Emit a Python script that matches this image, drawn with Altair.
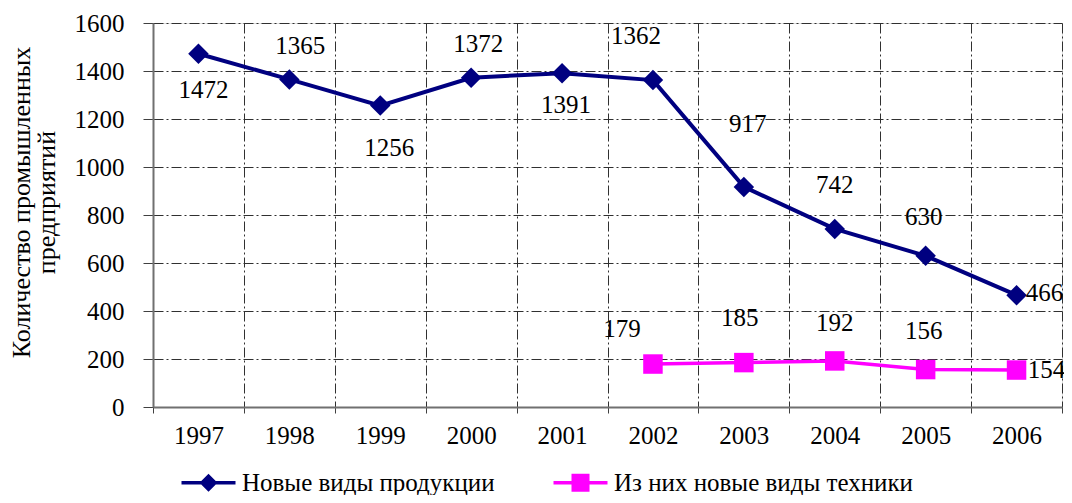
import altair as alt
import pandas as pd

# ---------------- data ----------------
years = ['1997', '1998', '1999', '2000', '2001', '2002', '2003', '2004', '2005', '2006']
products = [1472, 1365, 1256, 1372, 1391, 1362, 917, 742, 630, 466]
tech_years = ['2002', '2003', '2004', '2005', '2006']
tech = [179, 185, 192, 156, 154]
series_names = ['Новые виды продукции', 'Из них новые виды техники']
y_ticks = [0, 200, 400, 600, 800, 1000, 1200, 1400, 1600]

# label placement (pixel offsets from the point)
prod_label_dx = [5, 11, 9, 7, 4, -17, 4, 0, -2, 28]
prod_label_dy = [36, -33, 42, -34, 32, -44, -63, -44, -39, -2]
tech_label_dx = [-31, -4, 0, -2, 30]
tech_label_dy = [-35, -45, -38, -39, 0]

NAVY = '#000080'
MAGENTA = '#FF00FF'
FONT = 'Liberation Serif'
FS = 25

df_prod = pd.DataFrame({'year': years, 'value': products})
df_tech = pd.DataFrame({'year': tech_years, 'value': tech})
df_legend = pd.DataFrame({'series': series_names, 'year': [years[0], years[0]], 'value': [0, 0]})

x_enc = alt.X('year:O', bandPosition=0.5,
              scale=alt.Scale(type='band', domain=years, paddingInner=0, paddingOuter=0),
              axis=alt.Axis(title=None, tickBand='extent', grid=True, gridColor='#303030',
                            gridDash=[10, 3, 2, 3], gridWidth=1, domainColor='#707070',
                            domainWidth=2, tickColor='#404040', tickSize=6, tickWidth=1,
                            labelFont=FONT, labelFontSize=FS, labelColor='black',
                            labelPadding=10, labelAngle=0))
y_enc = alt.Y('value:Q',
              scale=alt.Scale(domain=[0, 1600], nice=False),
              axis=alt.Axis(title=['Количество промышленных', 'предприятий'],
                            values=y_ticks, format='d', grid=True, gridColor='#303030',
                            gridDash=[10, 3, 2, 3], gridWidth=1, domainColor='#707070',
                            domainWidth=2, tickColor='#404040', tickSize=10, tickWidth=1,
                            labelFont=FONT, labelFontSize=FS, labelColor='black',
                            labelPadding=19, titleFont=FONT, titleFontSize=26,
                            titleFontWeight='normal', titleColor='black',
                            titleLineHeight=25, titlePadding=15, titleY=179))

x_plain = alt.X('year:O', bandPosition=0.5,
                scale=alt.Scale(type='band', domain=years, paddingInner=0, paddingOuter=0))
y_plain = alt.Y('value:Q', scale=alt.Scale(domain=[0, 1600], nice=False))

base_prod = alt.Chart(df_prod)
base_tech = alt.Chart(df_tech)

line_prod = base_prod.mark_line(color=NAVY, strokeWidth=4).encode(x=x_enc, y=y_enc)
pts_prod = base_prod.mark_point(shape='diamond', filled=True, color=NAVY, size=420,
                                opacity=1).encode(x=x_plain, y=y_plain)
line_tech = base_tech.mark_line(color=MAGENTA, strokeWidth=3.5).encode(x=x_plain, y=y_plain)
pts_tech = base_tech.mark_point(shape='square', filled=True, color=MAGENTA, size=380,
                                opacity=1).encode(x=x_plain, y=y_plain)

layers = [line_prod, line_tech, pts_prod, pts_tech]

for i in range(len(years)):
    layers.append(
        alt.Chart(df_prod.iloc[[i]]).mark_text(
            font=FONT, fontSize=FS, color='black', align='center', baseline='middle',
            dx=prod_label_dx[i], dy=prod_label_dy[i]
        ).encode(x=x_plain, y=y_plain, text=alt.Text('value:Q'))
    )
for i in range(len(tech_years)):
    layers.append(
        alt.Chart(df_tech.iloc[[i]]).mark_text(
            font=FONT, fontSize=FS, color='black', align='center', baseline='middle',
            dx=tech_label_dx[i], dy=tech_label_dy[i]
        ).encode(x=x_plain, y=y_plain, text=alt.Text('value:Q'))
    )

# legend carrier (no visible marks; symbols = line + marker)
diamond_line = 'M-3,-0.2H3V0.2H-3Z M0,-1L1,0L0,1L-1,0Z'
square_line = 'M-3,-0.2H3V0.2H-3Z M-1,-1H1V1H-1Z'
legend_layer = alt.Chart(df_legend).transform_filter('datum.value > 1').mark_point(
    filled=True, size=324, opacity=1
).encode(
    x=x_plain, y=y_plain,
    color=alt.Color('series:N', scale=alt.Scale(domain=series_names, range=[NAVY, MAGENTA]),
                    legend=alt.Legend(title=None, orient='none', direction='horizontal',
                                      columns=2, legendX=43, legendY=447,
                                      labelFont=FONT, labelFontSize=FS, labelColor='black',
                                      labelLimit=0, labelOffset=21, columnPadding=58,
                                      symbolSize=324, symbolStrokeWidth=0, padding=0)),
    shape=alt.Shape('series:N', scale=alt.Scale(domain=series_names,
                                                range=[diamond_line, square_line]))
)
layers.append(legend_layer)

chart = alt.layer(*layers).properties(
    width=909, height=384,
    autosize=alt.AutoSizeParams(type='none'),
    padding={'left': 145, 'top': 15, 'right': 2, 'bottom': 88}
).configure_view(stroke=None).configure(background='white')

chart.save('out.html', embed_options={'renderer': 'svg', 'actions': False})
